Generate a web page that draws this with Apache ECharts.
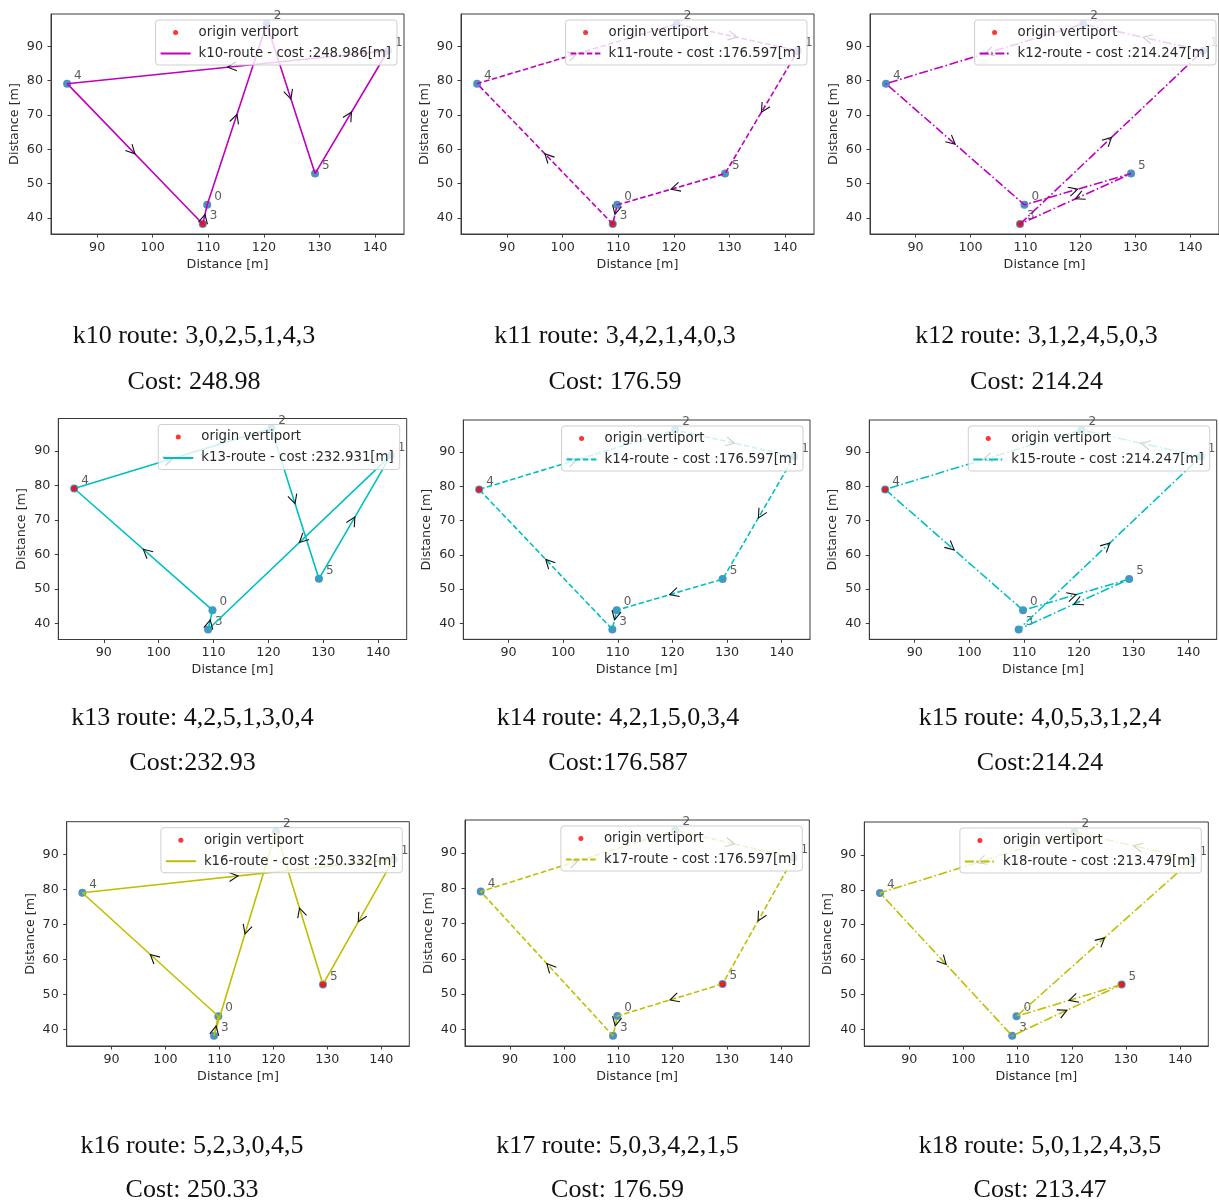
<!DOCTYPE html>
<html>
<head>
<meta charset="utf-8">
<script src="https://cdn.jsdelivr.net/npm/echarts@6/dist/echarts.min.js"></script>
<style>
  html, body { margin: 0; padding: 0; background: #ffffff; }
  #chart { width: 1219px; height: 1203px; }
</style>
</head>
<body>
<div id="chart"></div>
<script>
// Vertiport coordinates (metres), indexed by vertiport id
const NODE_IDS = [0, 1, 2, 3, 4, 5];
const NODE_X = [109.8, 142.3, 120.5, 109.0, 84.6, 129.2];
const NODE_Y = [43.8, 88.7, 96.5, 38.2, 79.1, 52.9];

// Routes flown by each vehicle (vertiport ids, closed loop)
const ROUTE_KEYS = ['k10', 'k11', 'k12', 'k13', 'k14', 'k15', 'k16', 'k17', 'k18'];
const ROUTES = [
  [3, 0, 2, 5, 1, 4, 3],
  [3, 4, 2, 1, 5, 0, 3],
  [3, 1, 2, 4, 0, 5, 3],
  [4, 2, 5, 1, 3, 0, 4],
  [4, 2, 1, 5, 0, 3, 4],
  [4, 0, 5, 3, 1, 2, 4],
  [5, 2, 3, 0, 4, 1, 5],
  [5, 0, 3, 4, 2, 1, 5],
  [5, 0, 1, 2, 4, 3, 5]
];
const ORIGINS = [3, 3, 3, 4, 4, 4, 5, 5, 5];
const COSTS = ['248.986', '176.597', '214.247', '232.931', '176.597', '214.247', '250.332', '176.597', '213.479'];

// Caption lines printed under each plot
const ROUTE_CAPTIONS = [
  'k10 route: 3,0,2,5,1,4,3', 'k11 route: 3,4,2,1,4,0,3', 'k12 route: 3,1,2,4,5,0,3',
  'k13 route: 4,2,5,1,3,0,4', 'k14 route: 4,2,1,5,0,3,4', 'k15 route: 4,0,5,3,1,2,4',
  'k16 route: 5,2,3,0,4,5', 'k17 route: 5,0,3,4,2,1,5', 'k18 route: 5,0,1,2,4,3,5'
];
const COST_CAPTIONS = [
  'Cost: 248.98', 'Cost: 176.59', 'Cost: 214.24',
  'Cost:232.93', 'Cost:176.587', 'Cost:214.24',
  'Cost: 250.33', 'Cost: 176.59', 'Cost: 213.47'
];

const X_TICKS = [90, 100, 110, 120, 130, 140];
const Y_TICKS = [40, 50, 60, 70, 80, 90];
const X_LIMITS = [81.7, 145.2];
const Y_LIMITS = [35.3, 99.4];

// ---- layout & styling ----
const PANELS = [
  { left: 51,    top: 14,    width: 353,   height: 220 },
  { left: 461,   top: 14,    width: 353,   height: 220 },
  { left: 870,   top: 14,    width: 353,   height: 220 },
  { left: 58.3,  top: 418.5, width: 348.4, height: 221 },
  { left: 463.3, top: 420,   width: 346.7, height: 219.3 },
  { left: 869.3, top: 420,   width: 347.4, height: 219.3 },
  { left: 66.7,  top: 821.7, width: 342.6, height: 224.3 },
  { left: 465,   top: 820,   width: 344.3, height: 226 },
  { left: 864.3, top: 822,   width: 344,   height: 224 }
];
const CAPTION_X = [194, 615, 1036.5, 192.5, 618, 1040, 192, 617.5, 1040];
const CAPTION_ROW_Y = [[336, 382], [718, 763.5], [1146, 1190.5]];

const MAGENTA = '#bf00bf', CYAN = '#00bfbf', OLIVE = '#bfbf00';
const LINE_COLORS = [MAGENTA, MAGENTA, MAGENTA, CYAN, CYAN, CYAN, OLIVE, OLIVE, OLIVE];
const SOLID = 'solid', DASHED = [5.5, 2.6], DASHDOT = [9, 2.6, 1.6, 2.6];
const LINE_TYPES = [SOLID, DASHED, DASHDOT, SOLID, DASHED, DASHDOT, SOLID, DASHED, DASHDOT];

const W = 1219;
const TEXT = '#2a2a2a';
const FRAME = '#3c3c3c';
const SANS = 'DejaVu Sans';

const chart = echarts.init(document.getElementById('chart'), null, { renderer: 'canvas' });

const grids = [], xAxes = [], yAxes = [], series = [], legends = [], graphics = [];

// open arrow head at the middle of every leg, pointing in the travel direction
function arrowRenderer(params, api) {
  const a = api.coord([api.value(0), api.value(1)]);
  const b = api.coord([api.value(2), api.value(3)]);
  const dx = b[0] - a[0], dy = b[1] - a[1];
  const len = Math.sqrt(dx * dx + dy * dy) || 1;
  const ux = dx / len, uy = dy / len;
  const nx = -uy, ny = ux;
  const tip = [(a[0] + b[0]) / 2, (a[1] + b[1]) / 2];
  const L = 9, H = 4.6;
  const back = [tip[0] - L * ux, tip[1] - L * uy];
  return {
    type: 'polyline',
    shape: { points: [[back[0] + H * nx, back[1] + H * ny], tip, [back[0] - H * nx, back[1] - H * ny]] },
    style: { stroke: '#111', lineWidth: 1.1, fill: null }
  };
}

PANELS.forEach((p, i) => {
  grids.push({
    left: p.left, top: p.top, width: p.width, height: p.height,
    show: true, borderColor: FRAME, borderWidth: 1, backgroundColor: '#fff'
  });

  xAxes.push({
    type: 'value', gridIndex: i, min: X_LIMITS[0], max: X_LIMITS[1],
    axisLine: { show: true, onZero: false, lineStyle: { color: FRAME, width: 1 } },
    axisTick: { show: true, customValues: X_TICKS, length: 3.5, lineStyle: { color: FRAME } },
    axisLabel: { customValues: X_TICKS, fontSize: 12.7, color: TEXT, fontFamily: SANS, margin: 7 },
    splitLine: { show: false },
    name: 'Distance [m]', nameLocation: 'middle', nameGap: 24,
    nameTextStyle: { fontSize: 12.7, color: TEXT, fontFamily: SANS }
  });
  yAxes.push({
    type: 'value', gridIndex: i, min: Y_LIMITS[0], max: Y_LIMITS[1],
    axisLine: { show: true, onZero: false, lineStyle: { color: FRAME, width: 1 } },
    axisTick: { show: true, customValues: Y_TICKS, length: 3.5, lineStyle: { color: FRAME } },
    axisLabel: { customValues: Y_TICKS, fontSize: 12.7, color: TEXT, fontFamily: SANS, margin: 8 },
    splitLine: { show: false },
    name: 'Distance [m]', nameLocation: 'middle', nameGap: 30,
    nameTextStyle: { fontSize: 12.7, color: TEXT, fontFamily: SANS }
  });

  const routeName = ROUTE_KEYS[i] + '-route - cost :' + COSTS[i] + '[m]';

  // all vertiports
  series.push({
    type: 'scatter', xAxisIndex: i, yAxisIndex: i, z: 2, silent: true,
    symbolSize: 8,
    itemStyle: { color: '#1f77b4' },
    label: {
      show: true, position: 'right', distance: 3, offset: [0, -8],
      formatter: (prm) => String(prm.value[2]),
      fontSize: 12, color: '#333', fontFamily: SANS
    },
    data: NODE_IDS.map((id, k) => [NODE_X[k], NODE_Y[k], id])
  });

  // route polyline
  series.push({
    type: 'line', name: routeName, xAxisIndex: i, yAxisIndex: i, z: 3, silent: true,
    symbol: 'none', showSymbol: false,
    lineStyle: { color: LINE_COLORS[i], width: 1.6, type: LINE_TYPES[i] },
    itemStyle: { color: LINE_COLORS[i] },
    data: ROUTES[i].map((k) => [NODE_X[k], NODE_Y[k]])
  });

  // origin vertiport
  series.push({
    type: 'scatter', name: 'origin vertiport', xAxisIndex: i, yAxisIndex: i, z: 4, silent: true,
    symbolSize: 6,
    itemStyle: { color: '#ff0000' },
    data: [[NODE_X[ORIGINS[i]], NODE_Y[ORIGINS[i]]]]
  });

  // direction arrows
  const legs = [];
  for (let s = 0; s < ROUTES[i].length - 1; s++) {
    const a = ROUTES[i][s], b = ROUTES[i][s + 1];
    legs.push([NODE_X[a], NODE_Y[a], NODE_X[b], NODE_Y[b]]);
  }
  series.push({
    type: 'custom', xAxisIndex: i, yAxisIndex: i, z: 4, silent: true,
    renderItem: arrowRenderer,
    encode: { x: [0, 2], y: [1, 3] },
    data: legs
  });

  legends.push({
    z: 10, selectedMode: false, orient: 'vertical',
    right: W - (p.left + p.width) + 7, top: p.top + 6,
    itemWidth: 30, itemHeight: 5, itemGap: 8,
    padding: [6, 6, 5, 4],
    backgroundColor: 'rgba(255,255,255,0.8)',
    borderColor: '#cfcfcf', borderWidth: 1, borderRadius: 3,
    textStyle: { fontSize: 13.3, color: TEXT, fontFamily: SANS, padding: [0, 0, 0, 3] },
    data: [
      { name: 'origin vertiport' },
      { name: routeName, itemStyle: { color: 'rgba(0,0,0,0)', borderWidth: 0 } }
    ]
  });

  const row = Math.floor(i / 3);
  const capFont = '26px "Liberation Serif", serif';
  [ROUTE_CAPTIONS[i], COST_CAPTIONS[i]].forEach((txt, j) => {
    graphics.push({
      type: 'text', x: CAPTION_X[i], y: CAPTION_ROW_Y[row][j], silent: true,
      style: {
        text: txt, font: capFont, fill: '#111',
        align: 'center', verticalAlign: 'middle',
        textAlign: 'center', textVerticalAlign: 'middle'
      }
    });
  });
});

chart.setOption({
  animation: false,
  backgroundColor: '#ffffff',
  grid: grids,
  xAxis: xAxes,
  yAxis: yAxes,
  legend: legends,
  series: series,
  graphic: { elements: graphics }
});
</script>
</body>
</html>
